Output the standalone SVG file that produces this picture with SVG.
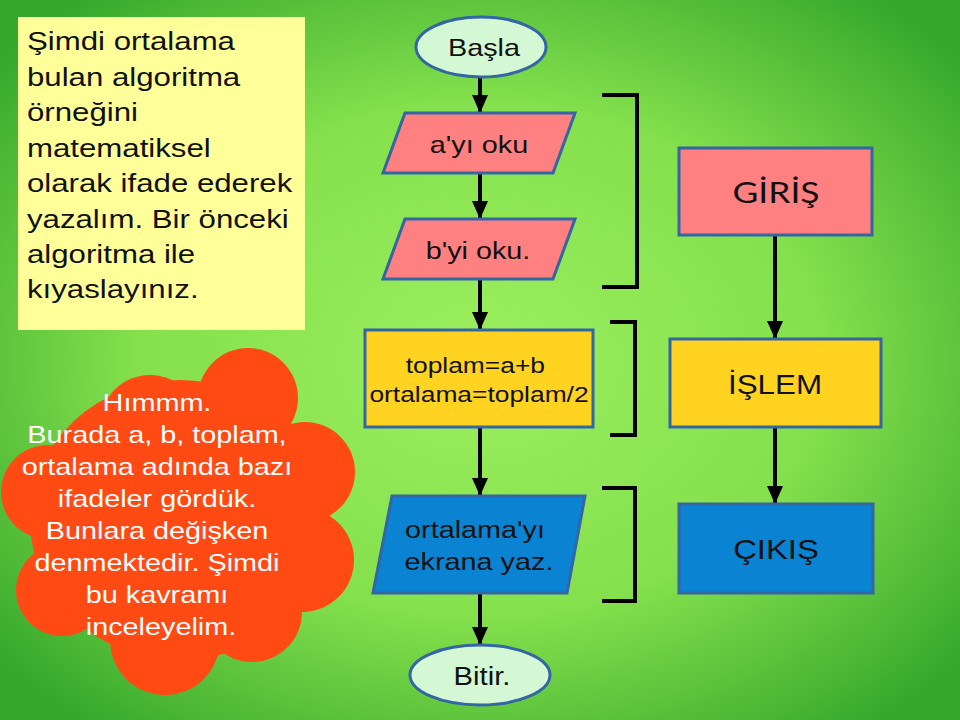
<svg xmlns="http://www.w3.org/2000/svg" width="960" height="720" viewBox="0 0 960 720">
<defs>
<radialGradient id="bg" cx="50%" cy="50%" r="65%">
<stop offset="0" stop-color="#9cef5e"/>
<stop offset="0.55" stop-color="#84e04c"/>
<stop offset="1" stop-color="#36a82c"/>
</radialGradient>
<marker id="ah" markerUnits="userSpaceOnUse" markerWidth="18" markerHeight="22" refX="18" refY="8" orient="auto" viewBox="0 0 18 16">
<path d="M0,0 L18,8 L0,16 Z" fill="#000"/>
</marker>
<style>
.t{font-family:"Liberation Sans",Arial,sans-serif;fill:#111;text-anchor:middle}
.l{font-family:"Liberation Sans",Arial,sans-serif;fill:#111}
.w{fill:#fff}
.sh{stroke:#3465a4;stroke-width:3}
.conn{stroke:#000;stroke-width:4;fill:none}
.br{stroke:#000;stroke-width:4;fill:none}
</style>
</defs>
<rect width="960" height="720" fill="url(#bg)"/>

<g id="note">
<rect x="18" y="17" width="287" height="313" fill="#ffff99"/>
<text class="l" font-size="26" transform="translate(27,0) scale(1.2,1)">
<tspan x="0" y="50">Şimdi ortalama</tspan>
<tspan x="0" y="86">bulan algoritma</tspan>
<tspan x="0" y="121">örneğini</tspan>
<tspan x="0" y="157">matematiksel</tspan>
<tspan x="0" y="192">olarak ifade ederek</tspan>
<tspan x="0" y="228">yazalım. Bir önceki</tspan>
<tspan x="0" y="263">algoritma ile</tspan>
<tspan x="0" y="298">kıyaslayınız.</tspan>
</text>
</g>

<g id="cloud">
<g fill="#ff4a14">
<circle cx="248" cy="398" r="50"/>
<circle cx="150" cy="425" r="50"/>
<circle cx="305" cy="472" r="50"/>
<circle cx="48" cy="492" r="47"/>
<circle cx="302" cy="560" r="52"/>
<circle cx="62" cy="590" r="46"/>
<circle cx="165" cy="640" r="55"/>
<circle cx="252" cy="612" r="50"/>
<ellipse cx="180" cy="520" rx="150" ry="140"/>
</g>
<text class="t w" font-size="24" transform="translate(161,0) scale(1.2,1)">
<tspan x="0" y="411">Hımmm.</tspan>
<tspan x="0" y="443">Burada a, b, toplam,</tspan>
<tspan x="0" y="475">ortalama adında bazı</tspan>
<tspan x="0" y="507">ifadeler gördük.</tspan>
<tspan x="0" y="539">Bunlara değişken</tspan>
<tspan x="0" y="571">denmektedir. Şimdi</tspan>
<tspan x="0" y="603">bu kavramı</tspan>
<tspan x="0" y="635">inceleyelim.</tspan>
</text>
</g>

<g id="connectors">
<path class="conn" d="M480,77 V113" marker-end="url(#ah)"/>
<path class="conn" d="M480,173 V219" marker-end="url(#ah)"/>
<path class="conn" d="M480,279 V330" marker-end="url(#ah)"/>
<path class="conn" d="M480,427 V496" marker-end="url(#ah)"/>
<path class="conn" d="M480,593 V645" marker-end="url(#ah)"/>
<path class="conn" d="M775,235 V339" marker-end="url(#ah)"/>
<path class="conn" d="M775,427 V504" marker-end="url(#ah)"/>
</g>

<g id="brackets">
<path class="br" d="M602,95 H637 V287 H602"/>
<path class="br" d="M610,322 H635 V435 H610"/>
<path class="br" d="M602,488 H635 V601 H602"/>
</g>

<g id="basla">
<ellipse cx="481" cy="47" rx="65" ry="30" fill="#d4f8d4" class="sh"/>
<text class="t" font-size="24" transform="translate(484,56) scale(1.2,1)">Başla</text>
</g>

<g id="oku-a">
<path d="M405,113 H575 L553,173 H383 Z" fill="#ff8080" class="sh"/>
<text class="t" font-size="24" transform="translate(479,153) scale(1.2,1)">a'yı oku</text>
</g>

<g id="oku-b">
<path d="M405,219 H575 L553,279 H383 Z" fill="#ff8080" class="sh"/>
<text class="t" font-size="24" transform="translate(478,259) scale(1.2,1)">b'yi oku.</text>
</g>

<g id="islem-box">
<rect x="365" y="330" width="228" height="97" fill="#ffd320" class="sh"/>
<text class="t" font-size="22" transform="translate(479,0) scale(1.2,1)">
<tspan x="0" y="373">toplam=a+b</tspan>
<tspan x="0" y="402">ortalama=toplam/2</tspan>
</text>
</g>

<g id="yaz">
<path d="M392,496 H585 L567,593 H373 Z" fill="#0a84d2" class="sh"/>
<text class="t" font-size="24" transform="translate(479,0) scale(1.2,1)">
<tspan x="0" y="538">ortalama'yı</tspan>
<tspan x="0" y="570">ekrana yaz.</tspan>
</text>
</g>

<g id="bitir">
<ellipse cx="480" cy="675" rx="70" ry="30" fill="#d4f8d4" class="sh"/>
<text class="t" font-size="25" transform="translate(482,685) scale(1.17,1)">Bitir.</text>
</g>

<g id="giris">
<rect x="679" y="148" width="193" height="87" fill="#ff8080" class="sh"/>
<text font-size="29" font-family="Lato, 'Liberation Sans', sans-serif" fill="#111" text-anchor="middle" transform="translate(776,203) scale(1.22,1)">GİRİŞ</text>
</g>

<g id="islem">
<rect x="670" y="339" width="211" height="88" fill="#ffd320" class="sh"/>
<text class="t" font-size="28" transform="translate(775,394) scale(1.12,1)">İŞLEM</text>
</g>

<g id="cikis">
<rect x="679" y="504" width="194" height="89" fill="#0a84d2" class="sh"/>
<text class="t" font-size="28" transform="translate(776,559) scale(1.17,1)">ÇIKIŞ</text>
</g>
</svg>
